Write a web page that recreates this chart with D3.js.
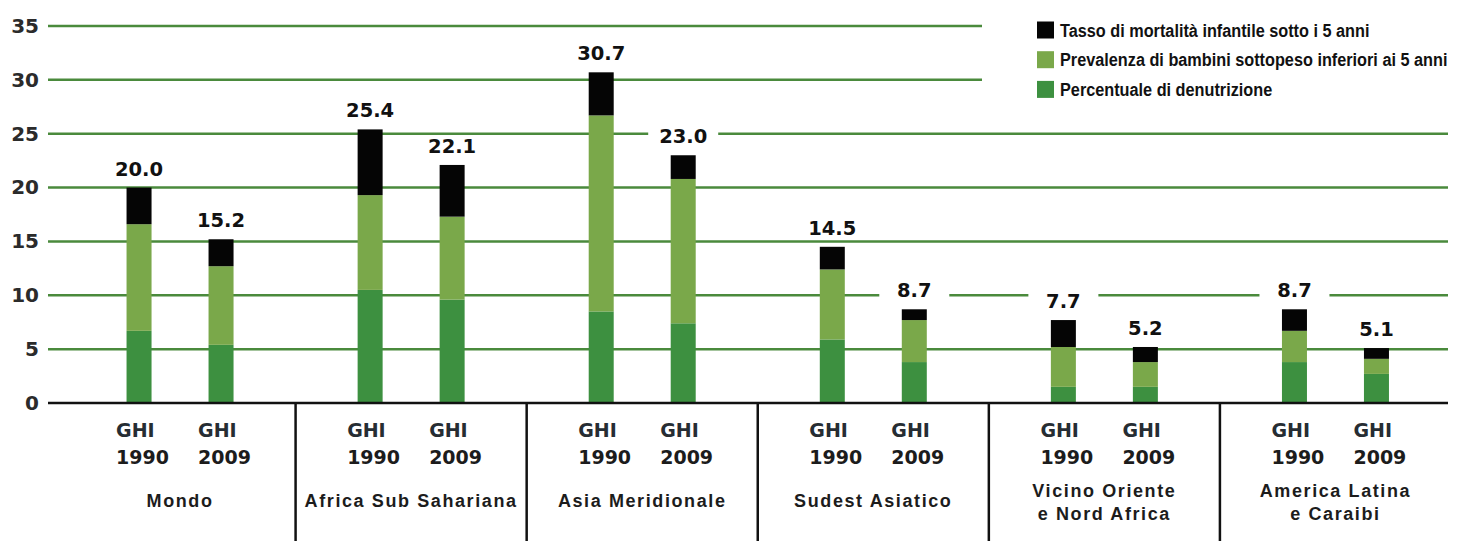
<!DOCTYPE html>
<html>
<head>
<meta charset="utf-8">
<script src="https://cdn.jsdelivr.net/npm/d3@7"></script>
<style>
  html, body { margin: 0; padding: 0; background: #fff; }
  #chart { width: 1459px; height: 541px; }
</style>
</head>
<body>
<div id="chart"></div>
<script>
const regions = [
    ['Mondo'],
    ['Africa Sub Sahariana'],
    ['Asia Meridionale'],
    ['Sudest Asiatico'],
    ['Vicino Oriente', 'e Nord Africa'],
    ['America Latina', 'e Caraibi'],
];
const years = ['1990', '2009'];
// per region: [1990, 2009]
const undernourishment = [[6.7, 5.4], [10.5, 9.6], [8.5, 7.4], [5.9, 3.8], [1.5, 1.5], [3.8, 2.7]];
const underweight = [[9.9, 7.3], [8.8, 7.7], [18.2, 13.4], [6.5, 3.9], [3.7, 2.3], [2.9, 1.4]];
const mortality = [[3.4, 2.5], [6.1, 4.8], [4.0, 2.2], [2.1, 1.0], [2.5, 1.4], [2.0, 1.0]];
const totals = [['20.0', '15.2'], ['25.4', '22.1'], ['30.7', '23.0'], ['14.5', '8.7'], ['7.7', '5.2'], ['8.7', '5.1']];
const yTicks = [0, 5, 10, 15, 20, 25, 30, 35];
const seriesKeys = ['undernourishment', 'underweight', 'mortality'];
const legendItems = [
    { key: 'mortality', label: 'Tasso di mortalità infantile sotto i 5 anni' },
    { key: 'underweight', label: 'Prevalenza di bambini sottopeso inferiori ai 5 anni' },
    { key: 'undernourishment', label: 'Percentuale di denutrizione' },
];

const colors = {
    undernourishment: '#3d9040',
    underweight: '#7aa84a',
    mortality: '#050505',
};
const gridColor = '#4a8a3c';

class GhiChart {
    svg = null;
    render(container) {
        const width = 1459;
        const height = 541;
        this.svg = d3.select(container).append('svg')
            .attr('width', width)
            .attr('height', height);
        const rows = [];
        regions.forEach((r, i) => {
            years.forEach((yr, j) => {
                rows.push({
                    region: i,
                    year: yr,
                    undernourishment: undernourishment[i][j],
                    underweight: underweight[i][j],
                    mortality: mortality[i][j],
                    total: totals[i][j],
                });
            });
        });
        const x0 = d3.scaleBand()
            .domain(d3.range(regions.length))
            .range([64.5, 1451]);
        const x1 = d3.scalePoint()
            .domain(years)
            .range([x0.bandwidth() / 2 - 41, x0.bandwidth() / 2 + 41]);
        const y = d3.scaleLinear()
            .domain([0, 35])
            .range([403, 26]);
        const gridLeft = 48;
        const gridRight = 1448;
        const legendX = 1037;
        const legendBottom = 100;

        // grid lines
        this.svg.append('g')
            .selectAll('line')
            .data(yTicks.filter(t => t > 0))
            .enter().append('line')
            .attr('x1', gridLeft)
            .attr('x2', (d) => y(d) < legendBottom ? legendX - 55 : gridRight)
            .attr('y1', (d) => y(d))
            .attr('y2', (d) => y(d))
            .attr('stroke', gridColor)
            .attr('stroke-width', 2.5);

        // y tick labels
        const yAxis = this.svg.append('g')
            .attr('transform', 'translate(39,0)')
            .call(d3.axisLeft(y).tickValues(yTicks).tickSize(0).tickPadding(0));
        yAxis.select('.domain').remove();
        yAxis.selectAll('text')
            .attr('font-family', 'DejaVu Sans')
            .attr('font-weight', 'bold')
            .attr('font-size', 20)
            .attr('fill', '#2b2b2b');

        // stacked bars
        const stack = d3.stack().keys(seriesKeys);
        const layers = stack(rows);
        const barW = 25;
        this.svg.append('g')
            .selectAll('g')
            .data(layers)
            .enter().append('g')
            .attr('fill', (d) => colors[d.key])
            .selectAll('rect')
            .data((d) => d)
            .enter().append('rect')
            .attr('x', (d) => x0(d.data.region) + x1(d.data.year) - barW / 2)
            .attr('width', barW)
            .attr('y', (d) => y(d[1]))
            .attr('height', (d) => y(d[0]) - y(d[1]));

        // value labels with white boxes
        const top = layers[layers.length - 1];
        const labels = this.svg.append('g')
            .selectAll('g')
            .data(top)
            .enter().append('g')
            .attr('transform', (d) => `translate(${x0(d.data.region) + x1(d.data.year)},${y(d[1]) - 12})`);
        labels.append('rect')
            .attr('x', -35)
            .attr('y', -17)
            .attr('width', 70)
            .attr('height', 21)
            .attr('fill', '#fff');
        labels.append('text')
            .attr('text-anchor', 'middle')
            .attr('font-family', 'DejaVu Sans')
            .attr('font-weight', 'bold')
            .attr('font-size', 19.5)
            .attr('fill', '#111')
            .text((d) => d.data.total);

        // baseline
        this.svg.append('line')
            .attr('x1', gridLeft)
            .attr('x2', gridRight)
            .attr('y1', y(0))
            .attr('y2', y(0))
            .attr('stroke', '#111')
            .attr('stroke-width', 2.5);

        // group separators
        this.svg.append('g')
            .selectAll('line')
            .data(d3.range(1, regions.length))
            .enter().append('line')
            .attr('x1', (d) => x0(d))
            .attr('x2', (d) => x0(d))
            .attr('y1', y(0))
            .attr('y2', height)
            .attr('stroke', '#111')
            .attr('stroke-width', 2.5);

        // GHI year labels
        const yearLabels = this.svg.append('g')
            .selectAll('text')
            .data(rows)
            .enter().append('text')
            .attr('x', (d) => x0(d.region) + x1(d.year) - 23)
            .attr('font-family', 'DejaVu Sans')
            .attr('font-weight', 'bold')
            .attr('font-size', 19)
            .attr('fill', '#262d33');
        yearLabels.append('tspan')
            .attr('y', 437)
            .text('GHI');
        yearLabels.append('tspan')
            .attr('x', (d) => x0(d.region) + x1(d.year) - 23)
            .attr('y', 464)
            .attr('fill', '#1c1c1c')
            .text((d) => d.year);

        // region names
        const names = this.svg.append('g')
            .selectAll('text')
            .data(regions)
            .enter().append('text')
            .attr('text-anchor', 'middle')
            .attr('font-family', 'Liberation Sans')
            .attr('font-weight', 'bold')
            .attr('font-size', 18)
            .attr('letter-spacing', 1.6)
            .attr('fill', '#1c1c1c');
        names.each(function (d, i) {
            const t = d3.select(this);
            const cx = x0(i) + x0.bandwidth() / 2;
            const startY = d.length > 1 ? 497 : 507;
            d.forEach((line, k) => {
                t.append('tspan')
                    .attr('x', cx)
                    .attr('y', startY + k * 23)
                    .text(line);
            });
        });

        // legend
        const legend = this.svg.append('g')
            .selectAll('g')
            .data(legendItems)
            .enter().append('g')
            .attr('transform', (d, i) => `translate(${legendX},${30 + i * 29.7})`);
        legend.append('rect')
            .attr('x', 0)
            .attr('y', -8.5)
            .attr('width', 17)
            .attr('height', 17)
            .attr('fill', (d) => colors[d.key]);
        legend.append('text')
            .attr('transform', 'translate(23,6.5) scale(0.93,1)')
            .attr('font-family', 'Liberation Sans')
            .attr('font-weight', 'bold')
            .attr('font-size', 17.5)
            .attr('fill', '#111')
            .text((d) => d.label);
    }
}

new GhiChart().render(document.getElementById('chart'));
</script>
</body>
</html>
